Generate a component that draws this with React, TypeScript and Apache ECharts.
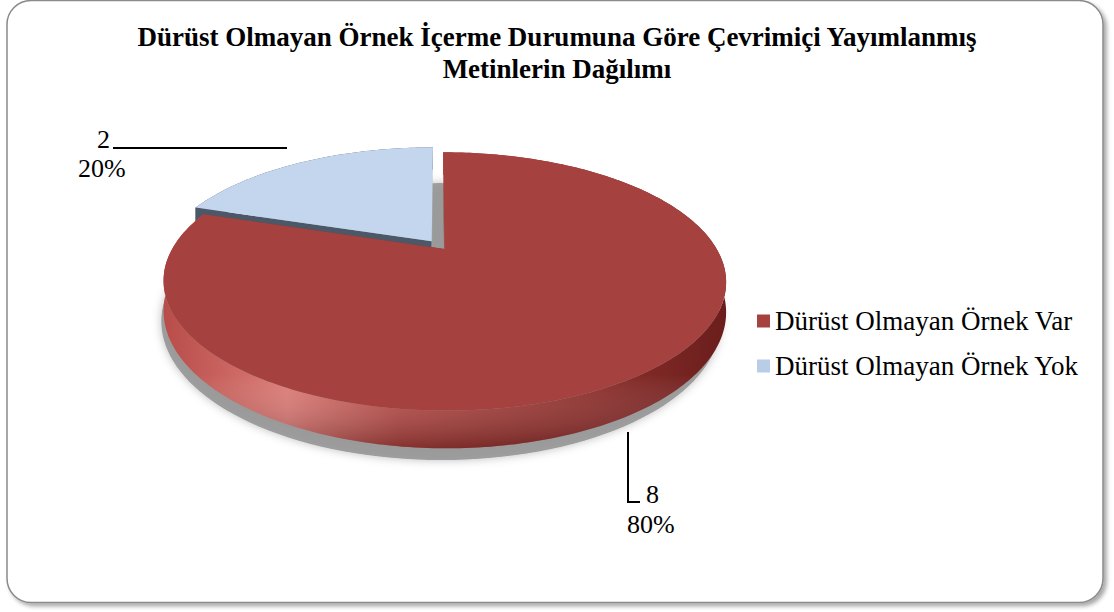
import React, { useEffect, useRef } from "react";
import * as echarts from "echarts";

// ---- data ----
const categories = ["Dürüst Olmayan Örnek Var", "Dürüst Olmayan Örnek Yok"];
const values = [8, 2];
const titleLines = [
  "Dürüst Olmayan Örnek İçerme Durumuna Göre Çevrimiçi Yayımlanmış",
  "Metinlerin Dağılımı",
];

// ---- styles / layout ----
const topColors = ["#a5413e", "#c4d6ee"];
const legendColors = ["#a5413e", "#b9cde6"];
const sideStops = [
  [
    [0, "#b84c49"],
    [0.22, "#dc7c77"],
    [0.42, "#b54b47"],
    [0.75, "#8f302d"],
    [1, "#6a1e1c"],
  ],
  [
    [0, "#4b5868"],
    [1, "#4b5868"],
  ],
];
const cutColors = [
  ["#8e3431", "#8e3431"],
  ["#4b5868", "#a9b1ba"],
];
const labelLayout = [
  {
    value: { x: 646, y: 494, align: "left" },
    pct: { x: 627, y: 524, align: "left" },
    leader: [
      [628, 432],
      [628, 502],
      [640, 502],
    ],
  },
  {
    value: { x: 110, y: 139, align: "right" },
    pct: { x: 78, y: 168, align: "left" },
    leader: [
      [113, 148],
      [287, 148],
    ],
  },
];
const PIE = { cx: 438, cy: 245, A: 270, B: 119, p: 0.25, T: 28, explode: 0.04 };
const FONT = "Liberation Serif";

const total = values.reduce((a, b) => a + b, 0);

function proj(u: number, v: number, h: number): number[] {
  const w = 1 - PIE.p * v;
  return [PIE.cx + (PIE.A * u) / w, PIE.cy + (PIE.B * v + PIE.T * h) / w];
}
function pt(deg: number, r: number, h: number, off: { u: number; v: number }) {
  const a = (deg * Math.PI) / 180;
  return proj(off.u + r * Math.sin(a), off.v - r * Math.cos(a), h);
}

function sliceAngles(i: number) {
  let start = 0;
  for (let j = 0; j < i; j++) start += (values[j] / total) * 360;
  const end = start + (values[i] / total) * 360;
  return [start, end];
}

function makeRender(i: number) {
  return (_params: any, api: any) => {
    const val = api.value(0);
    const [start, end] = sliceAngles(i);
    const mid = (((start + end) / 2) * Math.PI) / 180;
    const off = { u: PIE.explode * Math.sin(mid), v: -PIE.explode * Math.cos(mid) };
    const top: number[][] = [];
    const bot: number[][] = [];
    for (let a = start; a <= end + 1e-6; a += 1) {
      top.push(pt(a, 1, 0, off));
      bot.push(pt(a, 1, 1, off));
    }
    const cTop = pt(0, 0, 0, off);
    const cBot = pt(0, 0, 1, off);
    const sideGrad = new echarts.graphic.LinearGradient(
      0,
      0,
      1,
      0,
      sideStops[i].map((s) => ({ offset: s[0] as number, color: s[1] as string }))
    );
    const children: any[] = [];
    const sidePts = top.concat(bot.slice().reverse());
    children.push({ type: "polygon", shape: { points: sidePts }, style: { fill: sideGrad } });
    children.push({
      type: "polygon",
      shape: { points: sidePts },
      style: {
        fill: new echarts.graphic.LinearGradient(0, 0, 0, 1, [
          { offset: 0, color: "rgba(255,255,255,0)" },
          { offset: 0.75, color: "rgba(255,255,255,0)" },
          { offset: 1, color: "rgba(40,0,0,0.35)" },
        ]),
      },
    });
    children.push({
      type: "polygon",
      shape: { points: [cTop, top[0], bot[0], cBot] },
      style: { fill: cutColors[i][0] },
    });
    children.push({
      type: "polygon",
      shape: { points: [cTop, top[top.length - 1], bot[bot.length - 1], cBot] },
      style: { fill: cutColors[i][1] },
    });
    children.push({
      type: "polygon",
      shape: { points: [cTop].concat(top) },
      style: { fill: topColors[i] },
    });
    const L = labelLayout[i];
    children.push({
      type: "polyline",
      shape: { points: L.leader },
      style: { stroke: "#000", lineWidth: 2, fill: null },
    });
    children.push({
      type: "text",
      style: {
        text: String(val),
        x: L.value.x,
        y: L.value.y,
        align: L.value.align,
        verticalAlign: "middle",
        fill: "#000",
        fontSize: 26,
        fontFamily: FONT,
      },
    });
    children.push({
      type: "text",
      style: {
        text: Math.round((val / total) * 100) + "%",
        x: L.pct.x,
        y: L.pct.y,
        align: L.pct.align,
        verticalAlign: "middle",
        fill: "#000",
        fontSize: 26,
        fontFamily: FONT,
      },
    });
    return { type: "group", children };
  };
}

function renderShadow() {
  const pts: number[][] = [];
  const off = { u: 0.01, v: 0.01 };
  for (let a = 0; a < 360; a += 2) pts.push(pt(a, 1.0, 1.45, off));
  return {
    type: "polygon",
    shape: { points: pts },
    style: {
      fill: "rgba(145,145,145,0.85)",
      shadowBlur: 10,
      shadowColor: "rgba(0,0,0,0.3)",
    },
  };
}

export default function App() {
  const ref = useRef<HTMLDivElement>(null);
  useEffect(() => {
    if (!ref.current) return;
    const chart = echarts.init(ref.current, undefined, { renderer: "svg" });
    const drawOrder = [1, 0];
    chart.setOption({
      animation: false,
      backgroundColor: "transparent",
      textStyle: { fontFamily: FONT },
      title: {
        text: titleLines.join("\n"),
        left: "center",
        top: 16,
        textStyle: {
          fontFamily: FONT,
          fontWeight: "bold",
          fontSize: 27,
          lineHeight: 32,
          color: "#000",
        },
      },
      legend: {
        data: categories,
        orient: "vertical",
        left: 757,
        top: 307,
        padding: 0,
        itemWidth: 13,
        itemHeight: 13,
        itemGap: 17,
        icon: "rect",
        textStyle: { fontFamily: FONT, fontSize: 27, lineHeight: 28, color: "#000" },
      },
      graphic: [
        {
          type: "rect",
          z: -10,
          shape: { x: 7, y: 0.5, width: 1096, height: 602, r: 24 },
          style: {
            fill: "#fff",
            stroke: "#8a8a8a",
            lineWidth: 1.5,
            shadowBlur: 4,
            shadowOffsetX: 3,
            shadowOffsetY: 3,
            shadowColor: "rgba(0,0,0,0.35)",
          },
        },
      ],
      series: [
        {
          type: "custom",
          name: "shadow",
          coordinateSystem: "none",
          silent: true,
          z: 1,
          data: [[0]],
          renderItem: () => renderShadow(),
        },
        ...drawOrder.map((i, k) => ({
          type: "custom",
          name: categories[i],
          coordinateSystem: "none",
          z: 2 + k,
          itemStyle: { color: legendColors[i] },
          data: [[values[i]]],
          renderItem: makeRender(i),
        })),
      ],
    });
    return () => chart.dispose();
  }, []);
  return (
    <div
      ref={ref}
      style={{ position: "fixed", left: 0, top: 0, width: 1114, height: 612, background: "#fff" }}
    />
  );
}
